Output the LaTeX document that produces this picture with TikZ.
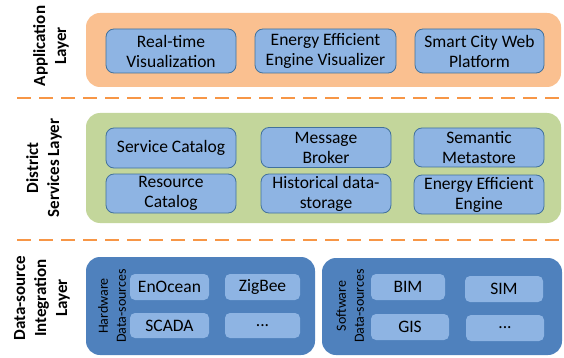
\documentclass[tikz,border=0pt]{standalone}
\usepackage{fontspec}
\setmainfont{Carlito}
\definecolor{orfill}{HTML}{FAC090}
\definecolor{grfill}{HTML}{C3D69B}
\definecolor{bluefill}{HTML}{8EB4E3}
\definecolor{blueline}{HTML}{41719C}
\definecolor{darkblue}{HTML}{4F81BD}
\definecolor{dashor}{HTML}{F79646}
\tikzset{
  layerbox/.style={rounded corners=14pt},
  item/.style={draw=blueline, line width=0.8pt, fill=bluefill, rounded corners=8pt, align=center, font=\fontsize{17.5}{20}\selectfont, inner sep=0pt},
  ditem/.style={fill=bluefill, rounded corners=5pt, align=center, font=\fontsize{17.5}{20}\selectfont, inner sep=0pt},
  layerlabel/.style={rotate=90, align=center, font=\bfseries\fontsize{17}{21}\selectfont},
  srclabel/.style={rotate=90, align=center, font=\fontsize{14}{18}\selectfont},
  sep/.style={draw=dashor, line width=1.6pt, dash pattern=on 14pt off 8pt},
}
\begin{document}
\begin{tikzpicture}[x=1pt,y=-1pt]
\useasboundingbox (0,0) rectangle (564,358);
% layer backgrounds
\fill[orfill, layerbox] (86,13) rectangle (561,87);
\fill[grfill, layerbox] (86,113) rectangle (561,223);
\fill[darkblue, layerbox] (86,257) rectangle (315,355);
\fill[darkblue, layerbox] (322,258) rectangle (562,355);
% separators
\coordinate (s1a) at (17,98); \coordinate (s1b) at (564,98);
\coordinate (s2a) at (17,240); \coordinate (s2b) at (564,240);
\draw[sep] (s1a) -- (s1b);
\draw[sep] (s2a) -- (s2b);
% layer labels
\node[layerlabel] (lapp) at (51,46) {Application\\Layer};
\node[layerlabel] (ldis) at (44,168) {District\\Services Layer};
\node[layerlabel] (ldat) at (42,298) {Data-source\\Integration\\Layer};
% application items
\node[item, minimum width=130pt, minimum height=44pt] (rtv) at (171,51) {Real-time\\Visualization};
\node[item, minimum width=141pt, minimum height=44pt] (eev) at (325.5,51) {Energy Efficient\\Engine Visualizer};
\node[item, minimum width=129pt, minimum height=44pt] (scw) at (479.5,51) {Smart City Web\\Platform};
% district items
\node[item, minimum width=130pt, minimum height=40pt] (sc) at (171,148) {Service Catalog};
\node[item, minimum width=130pt, minimum height=39pt] (rc) at (171,193.5) {Resource\\Catalog};
\node[item, minimum width=130pt, minimum height=40pt] (mb) at (326,147.5) {Message\\Broker};
\node[item, minimum width=130pt, minimum height=39pt] (hd) at (326,193.5) {Historical data-\\storage};
\node[item, minimum width=130pt, minimum height=39pt] (sm) at (479,147.5) {Semantic\\Metastore};
\node[item, minimum width=130pt, minimum height=39pt] (ee) at (479,194.5) {Energy Efficient\\Engine};
% hardware
\node[srclabel] (hw) at (112,306) {Hardware\\Data-sources};
\node[ditem, minimum width=79pt, minimum height=26pt] (eno) at (169.5,287) {EnOcean};
\node[ditem, minimum width=75pt, minimum height=26pt] (zig) at (262.5,287) {ZigBee};
\node[ditem, minimum width=79pt, minimum height=25pt] (sca) at (169.5,325.5) {SCADA};
\node[ditem, minimum width=75pt, minimum height=25pt] (hdots) at (262.5,325.5) {...};
% software
\node[srclabel] (sw) at (350,306) {Software\\Data-sources};
\node[ditem, minimum width=74pt, minimum height=26pt] (bim) at (408,287) {BIM};
\node[ditem, minimum width=78pt, minimum height=26pt] (sim) at (504,289) {SIM};
\node[ditem, minimum width=78pt, minimum height=26pt] (gis) at (410,327) {GIS};
\node[ditem, minimum width=78pt, minimum height=26pt] (sdots) at (505,328) {...};
\end{tikzpicture}
\end{document}
